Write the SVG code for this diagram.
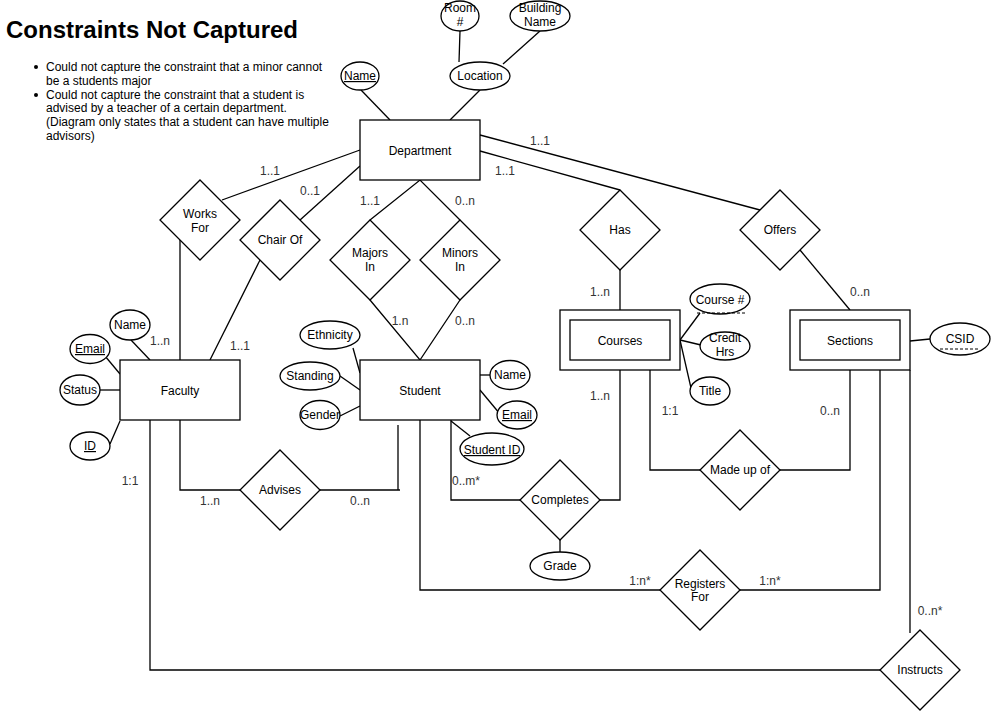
<svg xmlns="http://www.w3.org/2000/svg" width="991" height="711" viewBox="0 0 991 711">
  <style>
    text { font-family: "Liberation Sans", Arial, sans-serif; font-size: 12px; fill: #000; }
    .c { text-anchor: middle; }
    .lbl { fill: #333; }
    .key { text-decoration: underline; }
    .shape { fill: #fff; stroke: #000; stroke-width: 1.3; }
    .edge { fill: none; stroke: #000; stroke-width: 1.3; }
    .dash { fill: none; stroke: #000; stroke-width: 1; stroke-dasharray: 3 2; }
  </style>
  <rect width="991" height="711" fill="#fff"/>

  <!-- Notes -->
  <g id="notes">
    <text x="6" y="38" style="font-size:24px;font-weight:bold">Constraints Not Captured</text>
    <circle cx="36" cy="67" r="2" fill="#000"/>
    <circle cx="36" cy="95" r="2" fill="#000"/>
    <text x="46" y="71">Could not capture the constraint that a minor cannot</text>
    <text x="46" y="85">be a students major</text>
    <text x="46" y="99">Could not capture the constraint that a student is</text>
    <text x="46" y="112">advised by a teacher of a certain department.</text>
    <text x="46" y="126">(Diagram only states that a student can have multiple</text>
    <text x="46" y="140">advisors)</text>
  </g>

  <!-- Connectors -->
  <g id="connectors">
    <line class="edge" x1="361" y1="90" x2="390" y2="120"/>
    <line class="edge" x1="480" y1="90" x2="450" y2="120"/>
    <line class="edge" x1="460" y1="31" x2="459" y2="62"/>
    <line class="edge" x1="540" y1="31" x2="503" y2="64"/>
    <line class="edge" x1="480" y1="151" x2="620" y2="190"/>
    <line class="edge" x1="480" y1="135" x2="760" y2="210"/>
    <line class="edge" x1="620" y1="270" x2="620" y2="310"/>
    <line class="edge" x1="800" y1="250" x2="850" y2="310"/>
    <line class="edge" x1="360" y1="150" x2="222" y2="200"/>
    <line class="edge" x1="360" y1="166" x2="300" y2="220"/>
    <line class="edge" x1="180" y1="240" x2="180" y2="360"/>
    <line class="edge" x1="260" y1="260" x2="210" y2="360"/>
    <polyline class="edge" points="370,220 420,180 460,220"/>
    <polyline class="edge" points="370,300 420,360 460,300"/>
    <!-- Faculty attributes -->
    <line class="edge" x1="131" y1="340" x2="150" y2="360"/>
    <line class="edge" x1="105" y1="356" x2="120" y2="374"/>
    <line class="edge" x1="100" y1="390" x2="120" y2="390"/>
    <line class="edge" x1="110" y1="444" x2="120" y2="421"/>
    <!-- Student attributes -->
    <line class="edge" x1="353" y1="348" x2="360" y2="373"/>
    <line class="edge" x1="340" y1="376" x2="360" y2="390"/>
    <line class="edge" x1="340" y1="416" x2="360" y2="406"/>
    <line class="edge" x1="480" y1="375" x2="490" y2="375"/>
    <line class="edge" x1="480" y1="390" x2="500" y2="414"/>
    <line class="edge" x1="451" y1="421" x2="470" y2="436"/>
    <!-- Course / Section attributes -->
    <line class="edge" x1="680" y1="340" x2="700" y2="313"/>
    <line class="edge" x1="680" y1="340" x2="701" y2="345"/>
    <line class="edge" x1="680" y1="340" x2="691" y2="388"/>
    <line class="edge" x1="910" y1="341" x2="930" y2="339"/>
    <!-- Relationships below the entities -->
    <polyline class="edge" points="180,420 180,490 240,490"/>
    <line class="edge" x1="320" y1="490" x2="400" y2="490"/>
    <line class="edge" x1="398" y1="425" x2="398" y2="490"/>
    <polyline class="edge" points="150,420 150,670 880,670"/>
    <polyline class="edge" points="451,420 451,500 520,500"/>
    <polyline class="edge" points="620,370 620,500 600,500"/>
    <line class="edge" x1="560" y1="540" x2="560" y2="552"/>
    <polyline class="edge" points="420,420 420,590 660,590"/>
    <polyline class="edge" points="740,590 880,590 880,370"/>
    <polyline class="edge" points="650,370 650,470 700,470"/>
    <polyline class="edge" points="780,470 850,470 850,370"/>
    <line class="edge" x1="910" y1="370" x2="910" y2="633"/>
  </g>

  <!-- Cardinality labels -->
  <g id="labels">
    <text class="lbl c" x="540" y="145">1..1</text>
    <text class="lbl c" x="505" y="175">1..1</text>
    <text class="lbl c" x="270" y="175">1..1</text>
    <text class="lbl c" x="310" y="195">0..1</text>
    <text class="lbl c" x="370" y="205">1..1</text>
    <text class="lbl c" x="465" y="205">0..n</text>
    <text class="lbl c" x="600" y="296">1..n</text>
    <text class="lbl c" x="860" y="296">0..n</text>
    <text class="lbl c" x="160" y="345">1..n</text>
    <text class="lbl c" x="240" y="350">1..1</text>
    <text class="lbl c" x="400" y="325">1.n</text>
    <text class="lbl c" x="465" y="325">0..n</text>
    <text class="lbl c" x="600" y="400">1..n</text>
    <text class="lbl c" x="670" y="415">1:1</text>
    <text class="lbl c" x="830" y="415">0..n</text>
    <text class="lbl c" x="130" y="485">1:1</text>
    <text class="lbl c" x="466" y="485">0..m*</text>
    <text class="lbl c" x="210" y="505">1..n</text>
    <text class="lbl c" x="360" y="505">0..n</text>
    <text class="lbl c" x="640" y="585">1:n*</text>
    <text class="lbl c" x="770" y="585">1:n*</text>
    <text class="lbl c" x="930" y="615">0..n*</text>
  </g>

  <!-- Entities -->
  <g id="department">
    <rect class="shape" x="360" y="120" width="120" height="60"/>
    <text class="c" x="420" y="155">Department</text>
  </g>
  <g id="faculty">
    <rect class="shape" x="120" y="360" width="120" height="60"/>
    <text class="c" x="180" y="395">Faculty</text>
  </g>
  <g id="student">
    <rect class="shape" x="360" y="360" width="120" height="60"/>
    <text class="c" x="420" y="395">Student</text>
  </g>
  <g id="courses">
    <rect class="shape" x="560" y="310" width="120" height="60"/>
    <rect class="shape" x="570" y="320" width="100" height="40"/>
    <text class="c" x="620" y="345">Courses</text>
  </g>
  <g id="sections">
    <rect class="shape" x="790" y="310" width="120" height="60"/>
    <rect class="shape" x="800" y="320" width="100" height="40"/>
    <text class="c" x="850" y="345">Sections</text>
  </g>

  <!-- Relationships -->
  <g id="works-for">
    <polygon class="shape" points="200,180 240,220 200,260 160,220"/>
    <text class="c" x="200" y="218">Works</text>
    <text class="c" x="200" y="232">For</text>
  </g>
  <g id="chair-of">
    <polygon class="shape" points="280,200 320,240 280,280 240,240"/>
    <text class="c" x="280" y="244">Chair Of</text>
  </g>
  <g id="majors-in">
    <polygon class="shape" points="370,220 410,260 370,300 330,260"/>
    <text class="c" x="370" y="257">Majors</text>
    <text class="c" x="370" y="271">In</text>
  </g>
  <g id="minors-in">
    <polygon class="shape" points="460,220 500,260 460,300 420,260"/>
    <text class="c" x="460" y="257">Minors</text>
    <text class="c" x="460" y="271">In</text>
  </g>
  <g id="has">
    <polygon class="shape" points="620,190 660,230 620,270 580,230"/>
    <text class="c" x="620" y="234">Has</text>
  </g>
  <g id="offers">
    <polygon class="shape" points="780,190 820,230 780,270 740,230"/>
    <text class="c" x="780" y="234">Offers</text>
  </g>
  <g id="advises">
    <polygon class="shape" points="280,450 320,490 280,530 240,490"/>
    <text class="c" x="280" y="494">Advises</text>
  </g>
  <g id="made-up-of">
    <polygon class="shape" points="740,430 780,470 740,510 700,470"/>
    <text class="c" x="740" y="474">Made up of</text>
  </g>
  <g id="completes">
    <polygon class="shape" points="560,460 600,500 560,540 520,500"/>
    <text class="c" x="560" y="504">Completes</text>
  </g>
  <g id="registers-for">
    <polygon class="shape" points="700,550 740,590 700,630 660,590"/>
    <text class="c" x="700" y="588">Registers</text>
    <text class="c" x="700" y="601">For</text>
  </g>
  <g id="instructs">
    <polygon class="shape" points="920,630 960,670 920,710 880,670"/>
    <text class="c" x="920" y="674">Instructs</text>
  </g>

  <!-- Attributes -->
  <g id="dept-name">
    <ellipse class="shape" cx="360" cy="76" rx="19" ry="14"/>
    <text class="c key" x="360" y="80">Name</text>
  </g>
  <g id="dept-location">
    <ellipse class="shape" cx="480" cy="76" rx="30" ry="14"/>
    <text class="c" x="480" y="80">Location</text>
  </g>
  <g id="room-no">
    <ellipse class="shape" cx="460" cy="16" rx="19" ry="15"/>
    <text class="c" x="460" y="12">Room</text>
    <text class="c" x="460" y="26">#</text>
  </g>
  <g id="building-name">
    <ellipse class="shape" cx="540" cy="16" rx="30" ry="15"/>
    <text class="c" x="540" y="12">Building</text>
    <text class="c" x="540" y="26">Name</text>
  </g>
  <g id="faculty-name">
    <ellipse class="shape" cx="130" cy="325" rx="20" ry="15"/>
    <text class="c" x="130" y="329">Name</text>
  </g>
  <g id="faculty-email">
    <ellipse class="shape" cx="90" cy="349" rx="20" ry="14.5"/>
    <text class="c key" x="90" y="353">Email</text>
  </g>
  <g id="faculty-status">
    <ellipse class="shape" cx="80" cy="390" rx="20" ry="15"/>
    <text class="c" x="80" y="394">Status</text>
  </g>
  <g id="faculty-id">
    <ellipse class="shape" cx="90" cy="446" rx="20" ry="14"/>
    <text class="c key" x="90" y="450">ID</text>
  </g>
  <g id="student-ethnicity">
    <ellipse class="shape" cx="330" cy="335" rx="30" ry="14"/>
    <text class="c" x="330" y="339">Ethnicity</text>
  </g>
  <g id="student-standing">
    <ellipse class="shape" cx="310" cy="376" rx="30" ry="14"/>
    <text class="c" x="310" y="380">Standing</text>
  </g>
  <g id="student-gender">
    <ellipse class="shape" cx="320" cy="415" rx="20" ry="14.5"/>
    <text class="c" x="320" y="419">Gender</text>
  </g>
  <g id="student-name">
    <ellipse class="shape" cx="510" cy="375" rx="20" ry="14.5"/>
    <text class="c" x="510" y="379">Name</text>
  </g>
  <g id="student-email">
    <ellipse class="shape" cx="517" cy="415" rx="20" ry="14"/>
    <text class="c key" x="517" y="419">Email</text>
  </g>
  <g id="student-id">
    <ellipse class="shape" cx="492" cy="449" rx="32" ry="16"/>
    <text class="c key" x="492" y="454">Student ID</text>
  </g>
  <g id="grade">
    <ellipse class="shape" cx="560" cy="566" rx="30" ry="14"/>
    <text class="c" x="560" y="570">Grade</text>
  </g>
  <g id="course-no">
    <ellipse class="shape" cx="720" cy="299" rx="30" ry="15"/>
    <text class="c" x="720" y="304">Course #</text>
    <line class="dash" x1="697" y1="313" x2="745" y2="313"/>
  </g>
  <g id="credit-hrs">
    <ellipse class="shape" cx="725" cy="346" rx="25" ry="14"/>
    <text class="c" x="725" y="342">Credit</text>
    <text class="c" x="725" y="356">Hrs</text>
  </g>
  <g id="title">
    <ellipse class="shape" cx="710" cy="391" rx="20" ry="14"/>
    <text class="c" x="710" y="395">Title</text>
  </g>
  <g id="csid">
    <ellipse class="shape" cx="960" cy="339" rx="30" ry="16"/>
    <text class="c" x="960" y="343">CSID</text>
    <line class="dash" x1="940" y1="349" x2="978" y2="349"/>
  </g>
</svg>
